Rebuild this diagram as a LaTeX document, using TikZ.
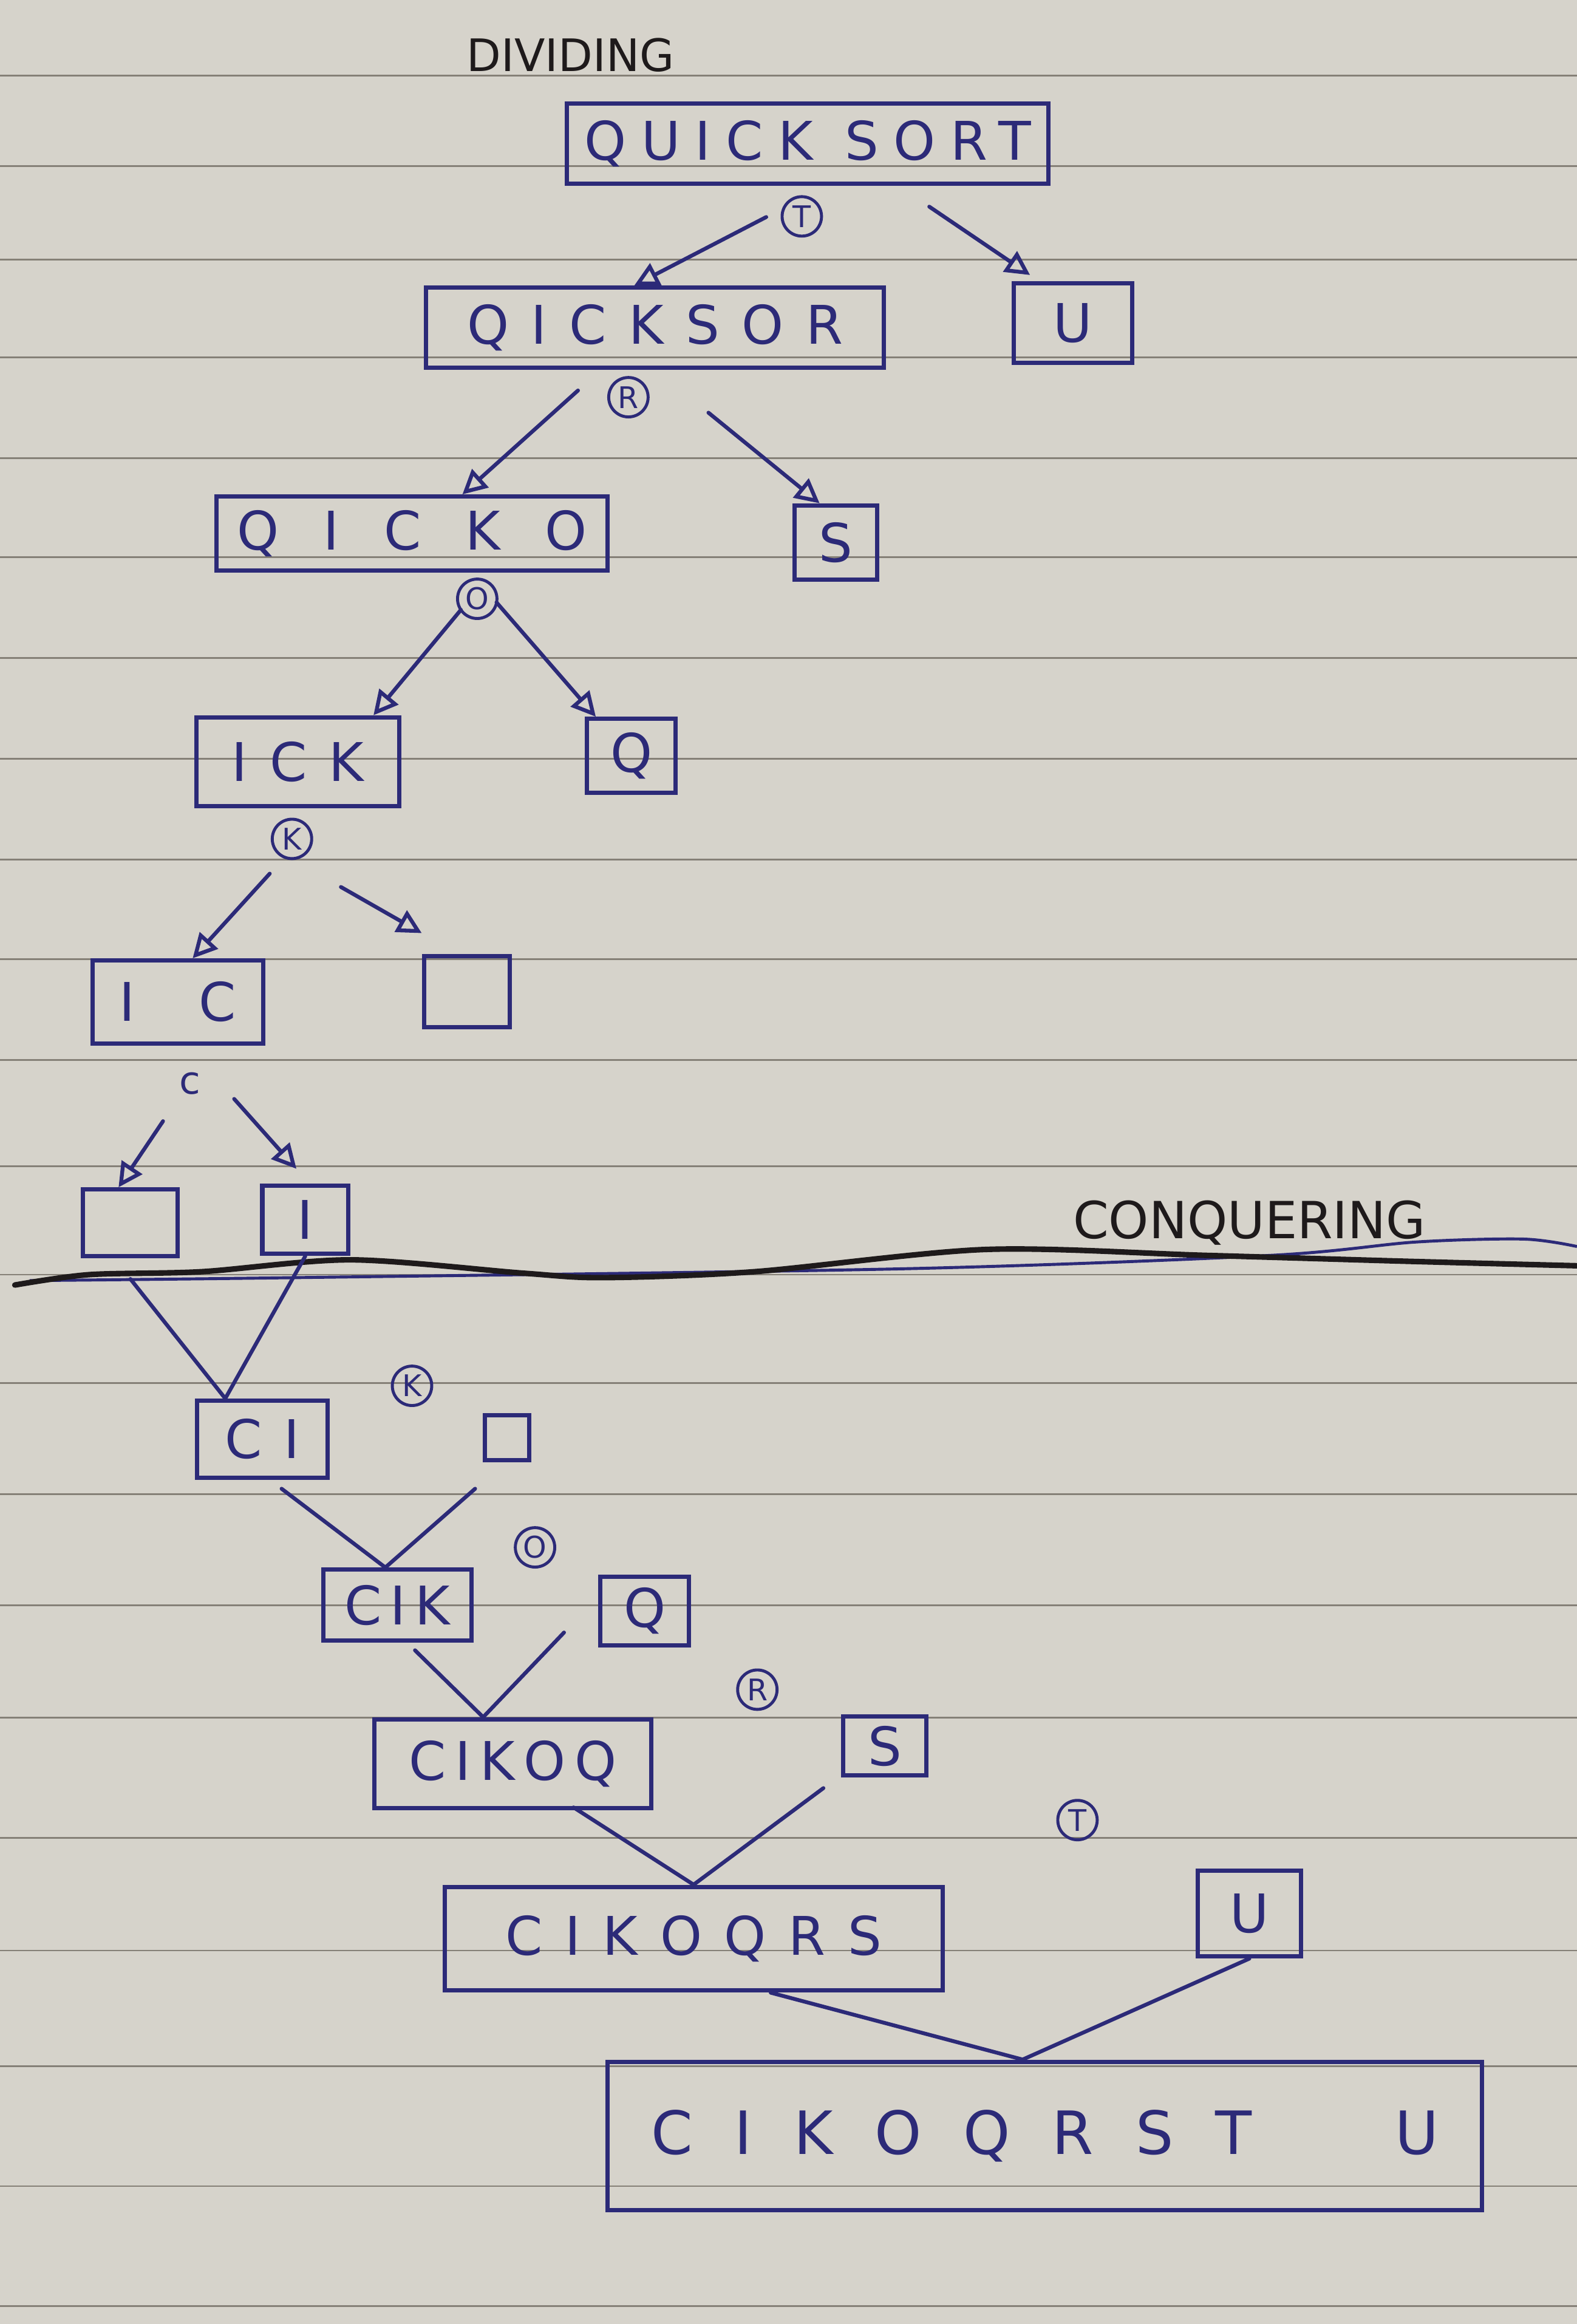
\documentclass[tikz,border=0pt]{standalone}
\usepackage{fontspec}
\setmainfont{DejaVu Sans}
\newfontfamily\handfont[LetterSpace=10]{DejaVu Sans}
\newfontfamily\handwide[LetterSpace=28]{DejaVu Sans}
\newcommand\lgap{\hspace{0.7em}}
\usepackage{xcolor}
\definecolor{cPaper}{HTML}{D6D3CB}
\definecolor{cRule}{HTML}{858077}
\definecolor{cInk}{HTML}{2C2A78}
\definecolor{cPen}{HTML}{1E1A1B}
\usepackage{tikz}
\usetikzlibrary{positioning,arrows.meta,calc}
\tikzset{
  node-box/.style={draw=cInk,line width=2pt,inner sep=0pt,align=center,
    text=cInk,font=\handfont\fontsize{25}{30}\selectfont},
  box-size/.style 2 args={minimum width=#1*0.2444mm,minimum height=#2*0.2444mm},
  node-pivot/.style={draw=cInk,line width=1.4pt,circle,inner sep=0.5pt,
    minimum size=6.5mm,text=cInk,font=\fontsize{14}{16}\selectfont},
  node-head/.style={text=cPen,font=\fontsize{22}{26}\selectfont},
  arrow/.style={-{Triangle[open,length=4mm,width=4mm]},line width=1.8pt,
    draw=cInk,line cap=round},
  link/.style={line width=1.8pt,draw=cInk,line cap=round},
  rule-line/.style={draw=cRule,line width=0.8pt},
}

\begin{document}
\begin{tikzpicture}[x=0.2444mm,y=-0.2444mm]
  \useasboundingbox (0,0) rectangle (1064,1568);
  % paper and ruling
  \fill[cPaper] (0,0) rectangle (1064,1568);
  \foreach \ry in {51,112,175,241,309,376,444,512,580,647,715,787,860,933,1008,1083,1159,1240,1316,1394,1475,1556}
    \draw[rule-line] (0,\ry) -- (1064,\ry);

  \node[node-head,font=\fontsize{21}{25}\selectfont] (dividing) at (385,37) {DIVIDING};
  \node[node-head,font=\fontsize{24}{28}\selectfont] (conquering) at (843,825) {CONQUERING};

  % dividing
  \node[node-box,box-size={325}{54},font=\handwide\fontsize{25}{30}\selectfont] (quicksort) at (545,97) {QUICK SORT};
  \node[node-box,box-size={309}{54}] (qicksor) at (442,221) {Q I C K S O R};
  \node[node-box,box-size={80}{54}] (u1) at (724,218) {U};
  \node[node-box,box-size={264}{50}] (qicko) at (278,360) {Q~ I~ C~ K~ O};
  \node[node-box,box-size={56}{50}] (s1) at (564,366) {S};
  \node[node-box,box-size={137}{60}] (ick) at (201,514) {I C K};
  \node[node-box,box-size={60}{50}] (q1) at (426,510) {Q};
  \node[node-box,box-size={115}{56}] (ic) at (120,676) {I\hspace{1.2em}C};
  \node[node-box,box-size={58}{48}] (emptyA) at (315,669) {};
  \node[node-box,box-size={64}{45}] (emptyB) at (88,825) {};
  \node[node-box,box-size={58}{46}] (i1) at (206,823) {I};

  \node[node-pivot] (pT) at (541,146) {T};
  \node[node-pivot] (pR) at (424,268) {R};
  \node[node-pivot] (pO) at (322,404) {O};
  \node[node-pivot] (pK) at (197,566) {K};
  \node[text=cInk,font=\fontsize{18}{20}\selectfont] (pC) at (128,731) {c};

  \draw[arrow] ($(quicksort.south)+(-28,21)$) -- ($(qicksor.north)+(-14,0)$);
  \draw[arrow] ($(quicksort.south)+(82,14)$) -- ($(u1.north)+(-29,-4)$);
  \draw[arrow] ($(qicksor.south)+(-52,14)$) -- ($(qicko.north)+(34,0)$);
  \draw[arrow] ($(qicksor.south)+(36,29)$) -- ($(s1.north)+(-11,0)$);
  \draw[arrow] ($(qicko.south)+(33,25)$) -- ($(ick.north)+(51,0)$);
  \draw[arrow] ($(qicko.south)+(57,20)$) -- ($(q1.north)+(-24,0)$);
  \draw[arrow] ($(ick.south)+(-19,44)$) -- ($(ic.north)+(10,0)$);
  \draw[arrow] ($(ick.south)+(29,53)$) -- ($(emptyA.north west)+(0,-14)$);
  \draw[arrow] ($(ic.south)+(-10,51)$) -- ($(emptyB.north)+(-8,0)$);
  \draw[arrow] ($(ic.south)+(38,36)$) -- ($(i1.north)+(-6,-10)$);

  % divider
  \draw[cInk,line width=1.4pt] plot[smooth] coordinates {(20,864) (200,862) (611,856) (857,847) (955,838) (1028,836) (1064,841)};
  \draw[cPen,line width=2.6pt,line cap=round] plot[smooth] coordinates {(10,867) (60,860) (136,858) (237,850) (353,859) (407,862) (509,858) (665,843) (814,847) (950,851) (1064,854)};

  % conquering
  \node[node-box,box-size={88}{52}] (ci) at (177,971) {C I};
  \node[node-box,box-size={30}{30}] (emptyC) at (342,970) {};
  \node[node-box,box-size={100}{48}] (cik) at (268,1083) {C\,I\,K};
  \node[node-box,box-size={60}{46}] (q2) at (435,1087) {Q};
  \node[node-box,box-size={187}{60}] (cikoq) at (346,1190) {C\,I\,K\,O\,Q};
  \node[node-box,box-size={56}{40}] (s2) at (597,1178) {S};
  \node[node-box,box-size={336}{70}] (cikoqrs) at (468,1308) {C I K O Q R S};
  \node[node-box,box-size={70}{58}] (u2) at (843,1291) {U};
  \node[node-box,box-size={590}{100},font=\handfont\fontsize{28}{32}\selectfont] (final) at (705,1441)
    {C\lgap I\lgap K\lgap O\lgap Q\lgap R\lgap S\lgap T\hspace{2.4em}U};

  \node[node-pivot] (cK) at (278,935) {K};
  \node[node-pivot] (cO) at (361,1044) {O};
  \node[node-pivot] (cR) at (511,1140) {R};
  \node[node-pivot] (cT) at (727,1228) {T};

  \coordinate (mCI) at ($(ci.north)+(-25,0)$);
  \coordinate (mCIK) at ($(cik.north)+(-8,0)$);
  \coordinate (mCIKOQ) at ($(cikoq.north)+(-20,0)$);
  \coordinate (mCIKOQRS) at (cikoqrs.north);
  \coordinate (mFinal) at ($(final.north)+(-15,0)$);

  \draw[link] ($(emptyB.south)+(0,14)$) -- (mCI) -- (i1.south);
  \draw[link] ($(ci.south)+(13,6)$) -- (mCIK) -- ($(emptyC.south west)+(-5,18)$);
  \draw[link] ($(cik.south)+(12,5)$) -- (mCIKOQ) -- ($(q2.south west)+(-23,-10)$);
  \draw[link] ($(cikoq.south)+(41,-2)$) -- (mCIKOQRS) -- ($(s2.south west)+(-12,7)$);
  \draw[link] ($(cikoqrs.south)+(52,0)$) -- (mFinal) -- (u2.south);
\end{tikzpicture}
\end{document}
